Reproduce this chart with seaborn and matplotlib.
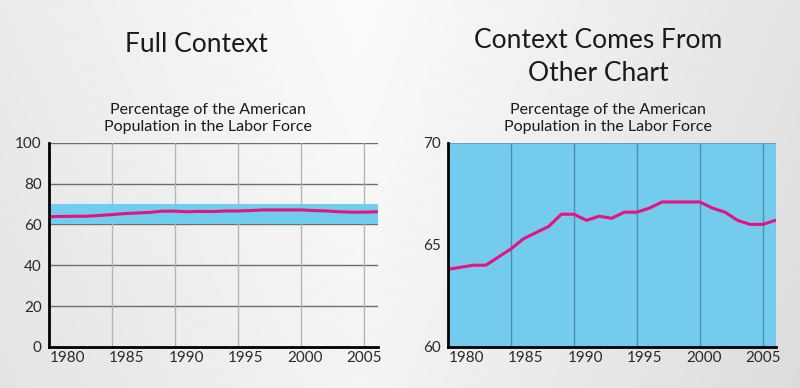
import numpy as np
import pandas as pd
import matplotlib
matplotlib.use("Agg")
import matplotlib.pyplot as plt
import matplotlib.transforms as mtransforms
import seaborn as sns

# Labor force participation rate (%)
years = list(range(1980, 2007))
participation = [63.8, 63.9, 64.0, 64.0, 64.4, 64.8, 65.3, 65.6, 65.9, 66.5,
                 66.5, 66.2, 66.4, 66.3, 66.6, 66.6, 66.8, 67.1, 67.1, 67.1,
                 67.1, 66.8, 66.6, 66.2, 66.0, 66.0, 66.2]

x_ticks = [1980, 1985, 1990, 1995, 2000, 2005]
full_yticks = [0, 20, 40, 60, 80, 100]
zoom_yticks = [60, 65, 70]
zoom_range = (60, 70)

left_title = "Full Context"
right_title = "Context Comes From\nOther Chart"
subtitle = "Percentage of the American\nPopulation in the Labor Force"

LINE = "#e8117f"
BAND = "#6fcdf0"
ZOOM_BG = "#73cbee"
FONT = ["Lato", "DejaVu Sans"]

sns.set_style("white")
plt.rcParams["font.family"] = FONT

df = pd.DataFrame({"year": years, "pct": participation})

fig = plt.figure(figsize=(8, 3.88), dpi=100)

# soft grey background, lightest near the top middle
bg = fig.add_axes([0, 0, 1, 1], zorder=-10)
yy, xx = np.mgrid[0:1:200j, 0:1:400j]
dx = xx - 0.45
shade = 0.985 - np.where(dx < 0, 0.14, 0.17) * np.abs(dx) - 0.03 * yy
bg.imshow(shade, cmap="gray", vmin=0, vmax=1, aspect="auto",
          extent=[0, 1, 0, 1], origin="upper")
bg.axis("off")


def style_axes(ax, yticks, ylim):
    ax.set_xlim(1980, 2006.05)
    ax.set_ylim(*ylim)
    ax.set_xticks(x_ticks)
    ax.set_yticks(yticks)
    ax.set_xlabel("")
    ax.set_ylabel("")
    ax.tick_params(length=0, labelsize=11, colors="#2a2a2a", pad=3)
    ax.tick_params(axis="y", pad=5)
    for side in ["top", "right"]:
        ax.spines[side].set_visible(False)
    for side in ["left", "bottom"]:
        ax.spines[side].set_color("black")
        ax.spines[side].set_linewidth(2)
        ax.spines[side].set_zorder(5)
    # year labels sit a little right of their gridlines, more so on the left
    for lab, yr in zip(ax.get_xticklabels(), x_ticks):
        shift = 13.5 * (2005 - yr) / 25 / 72
        lab.set_transform(lab.get_transform() + mtransforms.ScaledTranslation(
            shift, 0, fig.dpi_scale_trans))


# left panel: full 0-100 scale
ax1 = fig.add_axes([0.061, 0.106, 0.411, 0.526])
ax1.set_facecolor("none")
for yv in full_yticks[1:]:
    ax1.axhline(yv, color="#6e6e6e", lw=1, zorder=1)
for xv in x_ticks[1:]:
    ax1.axvline(xv, color="#b5b5b5", lw=1, zorder=1)
ax1.axhspan(*zoom_range, color=BAND, zorder=2, lw=0)
sns.lineplot(data=df, x="year", y="pct", ax=ax1, color=LINE, lw=2.2, zorder=3)
style_axes(ax1, full_yticks, (0, 100))

# right panel: zoomed 60-70 scale
ax2 = fig.add_axes([0.56, 0.106, 0.41, 0.526])
ax2.set_facecolor(ZOOM_BG)
for xv in x_ticks[1:]:
    ax2.axvline(xv, color="#4f8eab", lw=1, zorder=1)
ax2.axhline(zoom_range[1], color="#7d98a6", lw=1.5, zorder=1)
sns.lineplot(data=df, x="year", y="pct", ax=ax2, color=LINE, lw=2.2, zorder=3)
style_axes(ax2, zoom_yticks, zoom_range)

# titles
fig.text(0.245, 0.885, left_title, ha="center", va="center", fontsize=19,
         color="#1a1a1a")
fig.text(0.748, 0.853, right_title, ha="center", va="center", fontsize=19,
         color="#1a1a1a", linespacing=1.4)
for cx in [0.26, 0.76]:
    fig.text(cx, 0.695, subtitle, ha="center", va="center", fontsize=11.5,
             color="#1a1a1a", linespacing=1.3)

fig.savefig("out.png", dpi=100)
